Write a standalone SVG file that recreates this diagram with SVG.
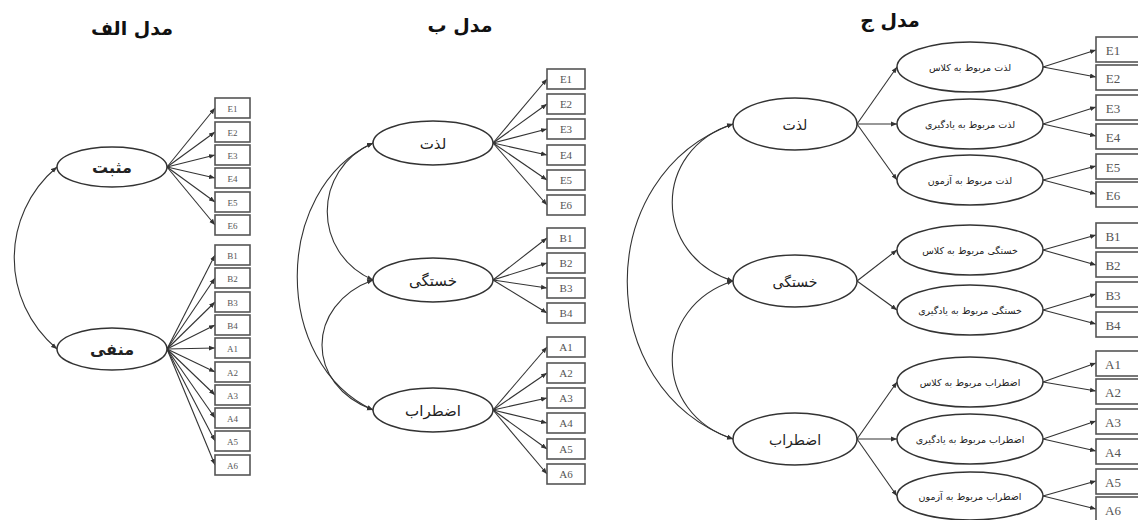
<svg xmlns="http://www.w3.org/2000/svg" width="1138" height="520" viewBox="0 0 1138 520">
<style>
.bg{fill:#fff}
.lat{fill:#fff;stroke:#333;stroke-width:1.5}
.box{fill:#fff;stroke:#555;stroke-width:1.6}
.ln{fill:none;stroke:#333;stroke-width:1.1}
.title{font-family:"DejaVu Sans",sans-serif;font-weight:bold;font-size:19px;fill:#111;text-anchor:middle}
.fa{font-family:"DejaVu Sans",sans-serif;text-anchor:middle;fill:#222}
.en{font-family:"Liberation Serif",serif;text-anchor:middle;fill:#555}
</style>
<defs>
<marker id="ah" viewBox="0 0 10 10" refX="10" refY="5" markerWidth="6" markerHeight="6" markerUnits="userSpaceOnUse" orient="auto">
<path d="M0,1 L10,5 L0,9 z" fill="#333"/>
</marker>
<marker id="as" viewBox="0 0 10 10" refX="0" refY="5" markerWidth="6" markerHeight="6" markerUnits="userSpaceOnUse" orient="auto">
<path d="M10,1 L0,5 L10,9 z" fill="#333"/>
</marker>
</defs>
<rect class="bg" x="0" y="0" width="1138" height="520"/>

<g id="titles">
<text class="title" x="132" y="35">مدل الف</text>
<text class="title" x="460" y="32">مدل ب</text>
<text class="title" x="890" y="27">مدل ج</text>
</g>

<g id="connectors">
<!-- Model A -->
<path class="ln" d="M57,167 C0,215 0,301 57,349" marker-start="url(#as)" marker-end="url(#ah)"/>
<path class="ln" d="M167,167 L215,108" marker-end="url(#ah)"/>
<path class="ln" d="M167,167 L215,132" marker-end="url(#ah)"/>
<path class="ln" d="M167,167 L215,155" marker-end="url(#ah)"/>
<path class="ln" d="M167,167 L215,178" marker-end="url(#ah)"/>
<path class="ln" d="M167,167 L215,202" marker-end="url(#ah)"/>
<path class="ln" d="M167,167 L215,225" marker-end="url(#ah)"/>
<path class="ln" d="M167,349 L215,255" marker-end="url(#ah)"/>
<path class="ln" d="M167,349 L215,278" marker-end="url(#ah)"/>
<path class="ln" d="M167,349 L215,302" marker-end="url(#ah)"/>
<path class="ln" d="M167,349 L215,325" marker-end="url(#ah)"/>
<path class="ln" d="M167,349 L215,348" marker-end="url(#ah)"/>
<path class="ln" d="M167,349 L215,372" marker-end="url(#ah)"/>
<path class="ln" d="M167,349 L215,395" marker-end="url(#ah)"/>
<path class="ln" d="M167,349 L215,418" marker-end="url(#ah)"/>
<path class="ln" d="M167,349 L215,441" marker-end="url(#ah)"/>
<path class="ln" d="M167,349 L215,465" marker-end="url(#ah)"/>
<!-- Model B -->
<path class="ln" d="M373,143 C312,170 312,253 373,280" marker-start="url(#as)" marker-end="url(#ah)"/>
<path class="ln" d="M373,143 C272,190 272,363 373,410" marker-start="url(#as)" marker-end="url(#ah)"/>
<path class="ln" d="M373,280 C305,305 305,385 373,410" marker-start="url(#as)" marker-end="url(#ah)"/>
<path class="ln" d="M493,143 L547,79" marker-end="url(#ah)"/>
<path class="ln" d="M493,143 L547,104" marker-end="url(#ah)"/>
<path class="ln" d="M493,143 L547,129" marker-end="url(#ah)"/>
<path class="ln" d="M493,143 L547,155" marker-end="url(#ah)"/>
<path class="ln" d="M493,143 L547,180" marker-end="url(#ah)"/>
<path class="ln" d="M493,143 L547,205" marker-end="url(#ah)"/>
<path class="ln" d="M493,280 L547,238" marker-end="url(#ah)"/>
<path class="ln" d="M493,280 L547,263" marker-end="url(#ah)"/>
<path class="ln" d="M493,280 L547,288" marker-end="url(#ah)"/>
<path class="ln" d="M493,280 L547,313" marker-end="url(#ah)"/>
<path class="ln" d="M493,410 L547,347" marker-end="url(#ah)"/>
<path class="ln" d="M493,410 L547,373" marker-end="url(#ah)"/>
<path class="ln" d="M493,410 L547,398" marker-end="url(#ah)"/>
<path class="ln" d="M493,410 L547,423" marker-end="url(#ah)"/>
<path class="ln" d="M493,410 L547,449" marker-end="url(#ah)"/>
<path class="ln" d="M493,410 L547,474" marker-end="url(#ah)"/>
<!-- Model C -->
<path class="ln" d="M733,124 C652,150 652,255 733,281" marker-start="url(#as)" marker-end="url(#ah)"/>
<path class="ln" d="M733,124 C592,175 592,388 733,439" marker-start="url(#as)" marker-end="url(#ah)"/>
<path class="ln" d="M733,281 C652,307 652,413 733,439" marker-start="url(#as)" marker-end="url(#ah)"/>
<path class="ln" d="M857,124 L897,67" marker-end="url(#ah)"/>
<path class="ln" d="M857,124 L897,124" marker-end="url(#ah)"/>
<path class="ln" d="M857,124 L897,180" marker-end="url(#ah)"/>
<path class="ln" d="M857,281 L897,250" marker-end="url(#ah)"/>
<path class="ln" d="M857,281 L897,310" marker-end="url(#ah)"/>
<path class="ln" d="M857,439 L897,382" marker-end="url(#ah)"/>
<path class="ln" d="M857,439 L897,439" marker-end="url(#ah)"/>
<path class="ln" d="M857,439 L897,496" marker-end="url(#ah)"/>
<path class="ln" d="M1043,67 L1096,50" marker-end="url(#ah)"/>
<path class="ln" d="M1043,67 L1096,77" marker-end="url(#ah)"/>
<path class="ln" d="M1043,124 L1096,107" marker-end="url(#ah)"/>
<path class="ln" d="M1043,124 L1096,136" marker-end="url(#ah)"/>
<path class="ln" d="M1043,180 L1096,166" marker-end="url(#ah)"/>
<path class="ln" d="M1043,180 L1096,194" marker-end="url(#ah)"/>
<path class="ln" d="M1043,250 L1096,235" marker-end="url(#ah)"/>
<path class="ln" d="M1043,250 L1096,265" marker-end="url(#ah)"/>
<path class="ln" d="M1043,310 L1096,294" marker-end="url(#ah)"/>
<path class="ln" d="M1043,310 L1096,324" marker-end="url(#ah)"/>
<path class="ln" d="M1043,382 L1096,363" marker-end="url(#ah)"/>
<path class="ln" d="M1043,382 L1096,391" marker-end="url(#ah)"/>
<path class="ln" d="M1043,439 L1096,421" marker-end="url(#ah)"/>
<path class="ln" d="M1043,439 L1096,451" marker-end="url(#ah)"/>
<path class="ln" d="M1043,496 L1096,481" marker-end="url(#ah)"/>
<path class="ln" d="M1043,496 L1096,509" marker-end="url(#ah)"/>
</g>

<!-- Model A nodes -->
<g id="a-pos"><ellipse class="lat" cx="112" cy="167" rx="55" ry="20"/><text class="fa" x="112" y="173" font-size="16" font-weight="bold">مثبت</text></g>
<g id="a-neg"><ellipse class="lat" cx="112" cy="349" rx="55" ry="21"/><text class="fa" x="112" y="355" font-size="16" font-weight="bold">منفی</text></g>
<g id="a-E1"><rect class="box" x="215" y="98" width="35" height="20"/><text class="en" x="232.5" y="112" font-size="9">E1</text></g>
<g id="a-E2"><rect class="box" x="215" y="122" width="35" height="20"/><text class="en" x="232.5" y="136" font-size="9">E2</text></g>
<g id="a-E3"><rect class="box" x="215" y="145" width="35" height="20"/><text class="en" x="232.5" y="159" font-size="9">E3</text></g>
<g id="a-E4"><rect class="box" x="215" y="168" width="35" height="20"/><text class="en" x="232.5" y="182" font-size="9">E4</text></g>
<g id="a-E5"><rect class="box" x="215" y="192" width="35" height="20"/><text class="en" x="232.5" y="206" font-size="9">E5</text></g>
<g id="a-E6"><rect class="box" x="215" y="215" width="35" height="20"/><text class="en" x="232.5" y="229" font-size="9">E6</text></g>
<g id="a-B1"><rect class="box" x="215" y="245" width="35" height="20"/><text class="en" x="232.5" y="259" font-size="9">B1</text></g>
<g id="a-B2"><rect class="box" x="215" y="268" width="35" height="20"/><text class="en" x="232.5" y="282" font-size="9">B2</text></g>
<g id="a-B3"><rect class="box" x="215" y="292" width="35" height="20"/><text class="en" x="232.5" y="306" font-size="9">B3</text></g>
<g id="a-B4"><rect class="box" x="215" y="315" width="35" height="20"/><text class="en" x="232.5" y="329" font-size="9">B4</text></g>
<g id="a-A1"><rect class="box" x="215" y="338" width="35" height="20"/><text class="en" x="232.5" y="352" font-size="9">A1</text></g>
<g id="a-A2"><rect class="box" x="215" y="362" width="35" height="20"/><text class="en" x="232.5" y="376" font-size="9">A2</text></g>
<g id="a-A3"><rect class="box" x="215" y="385" width="35" height="20"/><text class="en" x="232.5" y="399" font-size="9">A3</text></g>
<g id="a-A4"><rect class="box" x="215" y="408" width="35" height="20"/><text class="en" x="232.5" y="422" font-size="9">A4</text></g>
<g id="a-A5"><rect class="box" x="215" y="431" width="35" height="20"/><text class="en" x="232.5" y="445" font-size="9">A5</text></g>
<g id="a-A6"><rect class="box" x="215" y="455" width="35" height="20"/><text class="en" x="232.5" y="469" font-size="9">A6</text></g>

<!-- Model B nodes -->
<g id="b-enj"><ellipse class="lat" cx="433" cy="143" rx="60" ry="22"/><text class="fa" x="433" y="149" font-size="15">لذت</text></g>
<g id="b-bor"><ellipse class="lat" cx="433" cy="280" rx="60" ry="22"/><text class="fa" x="433" y="286" font-size="15">خستگی</text></g>
<g id="b-anx"><ellipse class="lat" cx="433" cy="410" rx="60" ry="22"/><text class="fa" x="433" y="416" font-size="15">اضطراب</text></g>
<g id="b-E1"><rect class="box" x="547" y="69" width="38" height="20"/><text class="en" x="566" y="83" font-size="11">E1</text></g>
<g id="b-E2"><rect class="box" x="547" y="94" width="38" height="20"/><text class="en" x="566" y="108" font-size="11">E2</text></g>
<g id="b-E3"><rect class="box" x="547" y="119" width="38" height="20"/><text class="en" x="566" y="133" font-size="11">E3</text></g>
<g id="b-E4"><rect class="box" x="547" y="145" width="38" height="20"/><text class="en" x="566" y="159" font-size="11">E4</text></g>
<g id="b-E5"><rect class="box" x="547" y="170" width="38" height="20"/><text class="en" x="566" y="184" font-size="11">E5</text></g>
<g id="b-E6"><rect class="box" x="547" y="195" width="38" height="20"/><text class="en" x="566" y="209" font-size="11">E6</text></g>
<g id="b-B1"><rect class="box" x="547" y="228" width="38" height="20"/><text class="en" x="566" y="242" font-size="11">B1</text></g>
<g id="b-B2"><rect class="box" x="547" y="253" width="38" height="20"/><text class="en" x="566" y="267" font-size="11">B2</text></g>
<g id="b-B3"><rect class="box" x="547" y="278" width="38" height="20"/><text class="en" x="566" y="292" font-size="11">B3</text></g>
<g id="b-B4"><rect class="box" x="547" y="303" width="38" height="20"/><text class="en" x="566" y="317" font-size="11">B4</text></g>
<g id="b-A1"><rect class="box" x="547" y="337" width="38" height="20"/><text class="en" x="566" y="351" font-size="11">A1</text></g>
<g id="b-A2"><rect class="box" x="547" y="363" width="38" height="20"/><text class="en" x="566" y="377" font-size="11">A2</text></g>
<g id="b-A3"><rect class="box" x="547" y="388" width="38" height="20"/><text class="en" x="566" y="402" font-size="11">A3</text></g>
<g id="b-A4"><rect class="box" x="547" y="413" width="38" height="20"/><text class="en" x="566" y="427" font-size="11">A4</text></g>
<g id="b-A5"><rect class="box" x="547" y="439" width="38" height="20"/><text class="en" x="566" y="453" font-size="11">A5</text></g>
<g id="b-A6"><rect class="box" x="547" y="464" width="38" height="20"/><text class="en" x="566" y="478" font-size="11">A6</text></g>

<!-- Model C nodes -->
<g id="c-enj"><ellipse class="lat" cx="795" cy="124" rx="62" ry="26"/><text class="fa" x="795" y="130" font-size="14">لذت</text></g>
<g id="c-bor"><ellipse class="lat" cx="795" cy="281" rx="62" ry="26"/><text class="fa" x="795" y="287" font-size="14">خستگی</text></g>
<g id="c-anx"><ellipse class="lat" cx="795" cy="439" rx="62" ry="26"/><text class="fa" x="795" y="445" font-size="14">اضطراب</text></g>
<g id="c-enj-class"><ellipse class="lat" cx="970" cy="67" rx="73" ry="25"/><text class="fa" x="970" y="71" font-size="9.5">لذت مربوط به کلاس</text></g>
<g id="c-enj-learn"><ellipse class="lat" cx="970" cy="124" rx="73" ry="25"/><text class="fa" x="970" y="128" font-size="9.5">لذت مربوط به یادگیری</text></g>
<g id="c-enj-test"><ellipse class="lat" cx="970" cy="180" rx="73" ry="25"/><text class="fa" x="970" y="184" font-size="9.5">لذت مربوط به آزمون</text></g>
<g id="c-bor-class"><ellipse class="lat" cx="970" cy="250" rx="73" ry="25"/><text class="fa" x="970" y="254" font-size="9.5">خستگی مربوط به کلاس</text></g>
<g id="c-bor-learn"><ellipse class="lat" cx="970" cy="310" rx="73" ry="25"/><text class="fa" x="970" y="314" font-size="9.5">خستگی مربوط به یادگیری</text></g>
<g id="c-anx-class"><ellipse class="lat" cx="970" cy="382" rx="73" ry="25"/><text class="fa" x="970" y="386" font-size="9.5">اضطراب مربوط به کلاس</text></g>
<g id="c-anx-learn"><ellipse class="lat" cx="970" cy="439" rx="73" ry="25"/><text class="fa" x="970" y="443" font-size="9.5">اضطراب مربوط به یادگیری</text></g>
<g id="c-anx-test"><ellipse class="lat" cx="970" cy="496" rx="73" ry="24"/><text class="fa" x="970" y="500" font-size="9.5">اضطراب مربوط به آزمون</text></g>
<g id="c-E1"><rect class="box" x="1096" y="37" width="46" height="25"/><text class="en" x="1113" y="55" font-size="13">E1</text></g>
<g id="c-E2"><rect class="box" x="1096" y="65" width="46" height="25"/><text class="en" x="1113" y="83" font-size="13">E2</text></g>
<g id="c-E3"><rect class="box" x="1096" y="95" width="46" height="25"/><text class="en" x="1113" y="113" font-size="13">E3</text></g>
<g id="c-E4"><rect class="box" x="1096" y="124" width="46" height="25"/><text class="en" x="1113" y="142" font-size="13">E4</text></g>
<g id="c-E5"><rect class="box" x="1096" y="154" width="46" height="25"/><text class="en" x="1113" y="172" font-size="13">E5</text></g>
<g id="c-E6"><rect class="box" x="1096" y="182" width="46" height="25"/><text class="en" x="1113" y="200" font-size="13">E6</text></g>
<g id="c-B1"><rect class="box" x="1096" y="223" width="46" height="25"/><text class="en" x="1113" y="241" font-size="13">B1</text></g>
<g id="c-B2"><rect class="box" x="1096" y="252" width="46" height="25"/><text class="en" x="1113" y="270" font-size="13">B2</text></g>
<g id="c-B3"><rect class="box" x="1096" y="282" width="46" height="25"/><text class="en" x="1113" y="300" font-size="13">B3</text></g>
<g id="c-B4"><rect class="box" x="1096" y="312" width="46" height="25"/><text class="en" x="1113" y="330" font-size="13">B4</text></g>
<g id="c-A1"><rect class="box" x="1096" y="351" width="46" height="25"/><text class="en" x="1113" y="369" font-size="13">A1</text></g>
<g id="c-A2"><rect class="box" x="1096" y="379" width="46" height="25"/><text class="en" x="1113" y="397" font-size="13">A2</text></g>
<g id="c-A3"><rect class="box" x="1096" y="409" width="46" height="25"/><text class="en" x="1113" y="427" font-size="13">A3</text></g>
<g id="c-A4"><rect class="box" x="1096" y="439" width="46" height="25"/><text class="en" x="1113" y="457" font-size="13">A4</text></g>
<g id="c-A5"><rect class="box" x="1096" y="469" width="46" height="25"/><text class="en" x="1113" y="487" font-size="13">A5</text></g>
<g id="c-A6"><rect class="box" x="1096" y="497" width="46" height="25"/><text class="en" x="1113" y="515" font-size="13">A6</text></g>
</svg>
